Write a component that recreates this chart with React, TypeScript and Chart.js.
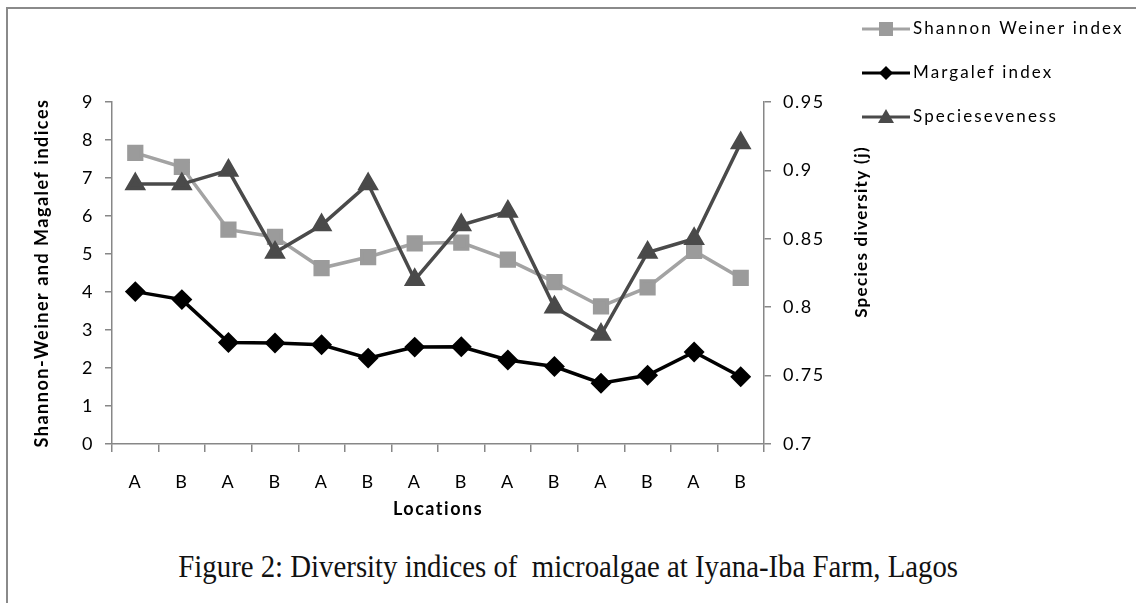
import React, { useEffect, useRef } from "react";
import { Chart, registerables } from "chart.js";

Chart.register(...registerables);

const locations = ["A", "B", "A", "B", "A", "B", "A", "B", "A", "B", "A", "B", "A", "B"];
const shannonWeiner = [7.66, 7.29, 5.64, 5.45, 4.63, 4.92, 5.28, 5.3, 4.85, 4.26, 3.62, 4.12, 5.08, 4.37];
const margalef = [4.01, 3.8, 2.67, 2.66, 2.61, 2.26, 2.55, 2.56, 2.21, 2.04, 1.6, 1.81, 2.42, 1.77];
const evenness = [0.89, 0.89, 0.9, 0.84, 0.86, 0.89, 0.82, 0.86, 0.87, 0.8, 0.78, 0.84, 0.85, 0.92];
const seriesNames = ["Shannon Weiner index", "Margalef index", "Specieseveness"];
const leftTitle = "Shannon-Weiner and Magalef indices";
const rightTitle = "Species diversity (j)";
const xTitle = "Locations";
const caption = "Figure 2: Diversity indices of  microalgae at Iyana-Iba Farm, Lagos";

const FONT = "Lato, 'Open Sans', sans-serif";
const AXIS_GRAY = "#878787";

const spacingPlugin = {
  id: "spacing",
  beforeDraw(chart: any) {
    chart.ctx.letterSpacing = "1.5px";
  },
  afterDraw(chart: any) {
    const ctx = chart.ctx;
    ctx.save();
    // right axis title, reading bottom-to-top
    ctx.letterSpacing = "1.3px";
    ctx.font = `bold 17px ${FONT}`;
    ctx.fillStyle = "#000";
    ctx.textAlign = "center";
    ctx.textBaseline = "middle";
    ctx.translate(862, 232);
    ctx.rotate(-Math.PI / 2);
    ctx.fillText(rightTitle, 0, 0);
    ctx.restore();

    // legend
    ctx.save();
    const rows = [29, 73, 117];
    chart.data.datasets.forEach((ds: any, i: number) => {
      const y = rows[i];
      ctx.strokeStyle = ds.borderColor;
      ctx.lineWidth = 3;
      ctx.beginPath();
      ctx.moveTo(862, y);
      ctx.lineTo(910, y);
      ctx.stroke();
      ctx.fillStyle = ds.pointBackgroundColor;
      ctx.beginPath();
      const cx = 886;
      if (ds.pointStyle === "rect") {
        ctx.fillRect(cx - 7, y - 7, 14, 14);
      } else if (ds.pointStyle === "rectRot") {
        ctx.moveTo(cx, y - 7);
        ctx.lineTo(cx + 7, y);
        ctx.lineTo(cx, y + 7);
        ctx.lineTo(cx - 7, y);
        ctx.closePath();
        ctx.fill();
      } else {
        ctx.moveTo(cx, y - 8);
        ctx.lineTo(cx + 8, y + 6);
        ctx.lineTo(cx - 8, y + 6);
        ctx.closePath();
        ctx.fill();
      }
      ctx.letterSpacing = "2.1px";
      ctx.font = `17px ${FONT}`;
      ctx.fillStyle = "#000";
      ctx.textAlign = "left";
      ctx.textBaseline = "middle";
      ctx.fillText(seriesNames[i], 913, y);
    });
    ctx.restore();
  },
};

export default function App() {
  const ref = useRef<HTMLCanvasElement | null>(null);

  useEffect(() => {
    if (!ref.current) return;
    const chart = new Chart(ref.current, {
      type: "line",
      data: {
        labels: locations,
        datasets: [
          {
            label: seriesNames[0],
            data: shannonWeiner,
            yAxisID: "y",
            borderColor: "#a3a3a3",
            backgroundColor: "#9b9b9b",
            pointBackgroundColor: "#9b9b9b",
            pointBorderColor: "#9b9b9b",
            pointStyle: "rect",
            pointRadius: 9,
            borderWidth: 3.5,
            tension: 0,
            order: 3,
          },
          {
            label: seriesNames[1],
            data: margalef,
            yAxisID: "y",
            borderColor: "#000000",
            backgroundColor: "#000000",
            pointBackgroundColor: "#000000",
            pointBorderColor: "#000000",
            pointStyle: "rectRot",
            pointRadius: 8,
            borderWidth: 3.5,
            tension: 0,
            order: 2,
          },
          {
            label: seriesNames[2],
            data: evenness,
            yAxisID: "y1",
            borderColor: "#4a4a4a",
            backgroundColor: "#4a4a4a",
            pointBackgroundColor: "#4a4a4a",
            pointBorderColor: "#4a4a4a",
            pointStyle: "triangle",
            pointRadius: 9,
            borderWidth: 3.5,
            tension: 0,
            order: 1,
          },
        ] as any,
      },
      options: {
        responsive: false,
        animation: false,
        layout: { padding: { left: 0, top: 102, right: 262, bottom: 16 } },
        plugins: {
          legend: { display: false },
          tooltip: { enabled: false },
          title: { display: false },
        },
        scales: {
          x: {
            type: "category",
            offset: true,
            afterFit: (s: any) => {
              s.height = 80;
            },
            grid: {
              offset: true,
              drawOnChartArea: false,
              drawTicks: true,
              tickLength: 8,
              color: AXIS_GRAY,
              lineWidth: 1.5,
            },
            border: { display: true, color: AXIS_GRAY, width: 1.5 },
            ticks: {
              color: "#000",
              font: { family: FONT, size: 18 },
              padding: 19,
              maxRotation: 0,
              autoSkip: false,
            },
            title: {
              display: true,
              text: xTitle,
              color: "#000",
              font: { family: FONT, size: 18, weight: "bold" },
              padding: { top: 4, bottom: 4 },
            },
          },
          y: {
            type: "linear",
            position: "left",
            min: 0,
            max: 9,
            afterFit: (s: any) => {
              s.width = 112;
            },
            grid: {
              drawOnChartArea: false,
              drawTicks: true,
              tickLength: 7,
              color: AXIS_GRAY,
              lineWidth: 1.5,
            },
            border: { display: true, color: AXIS_GRAY, width: 1.5 },
            ticks: {
              stepSize: 1,
              color: "#000",
              font: { family: FONT, size: 18 },
              padding: 11,
            },
            title: {
              display: true,
              text: leftTitle,
              color: "#000",
              font: { family: FONT, size: 18, weight: "bold" },
              padding: { top: 31, bottom: 0 },
            },
          },
          y1: {
            type: "linear",
            position: "right",
            min: 0.7,
            max: 0.95,
            afterFit: (s: any) => {
              s.width = 110;
            },
            grid: {
              drawOnChartArea: false,
              drawTicks: true,
              tickLength: 7,
              color: AXIS_GRAY,
              lineWidth: 1.5,
            },
            border: { display: true, color: AXIS_GRAY, width: 1.5 },
            ticks: {
              stepSize: 0.05,
              color: "#000",
              font: { family: FONT, size: 18 },
              padding: 12,
              callback: (v: any) => String(Math.round(Number(v) * 100) / 100),
            },
            title: { display: false },
          },
        },
      } as any,
      plugins: [spacingPlugin],
    });
    return () => chart.destroy();
  }, []);

  return (
    <div
      style={{
        position: "fixed",
        left: 0,
        top: 0,
        width: 1136,
        height: 603,
        background: "#fff",
        overflow: "hidden",
      }}
    >
      <div
        style={{
          position: "absolute",
          left: 6,
          top: 7,
          width: 1140,
          height: 610,
          borderTop: "2px solid #8a8a8a",
          borderLeft: "2px solid #8a8a8a",
        }}
      />
      <canvas
        ref={ref}
        width={1136}
        height={540}
        style={{ position: "absolute", left: 0, top: 0, width: 1136, height: 540 }}
      />
      <div
        style={{
          position: "absolute",
          left: 0,
          top: 546,
          width: 1136,
          textAlign: "center",
          whiteSpace: "pre",
        }}
      >
        <span
          style={{
            display: "inline-block",
            fontFamily: "'Liberation Serif', 'DejaVu Serif', serif",
            fontSize: 32,
            color: "#111",
            transform: "scaleX(0.9)",
            transformOrigin: "center",
            lineHeight: "40px",
            whiteSpace: "pre",
          }}
        >
          {caption}
        </span>
      </div>
    </div>
  );
}
